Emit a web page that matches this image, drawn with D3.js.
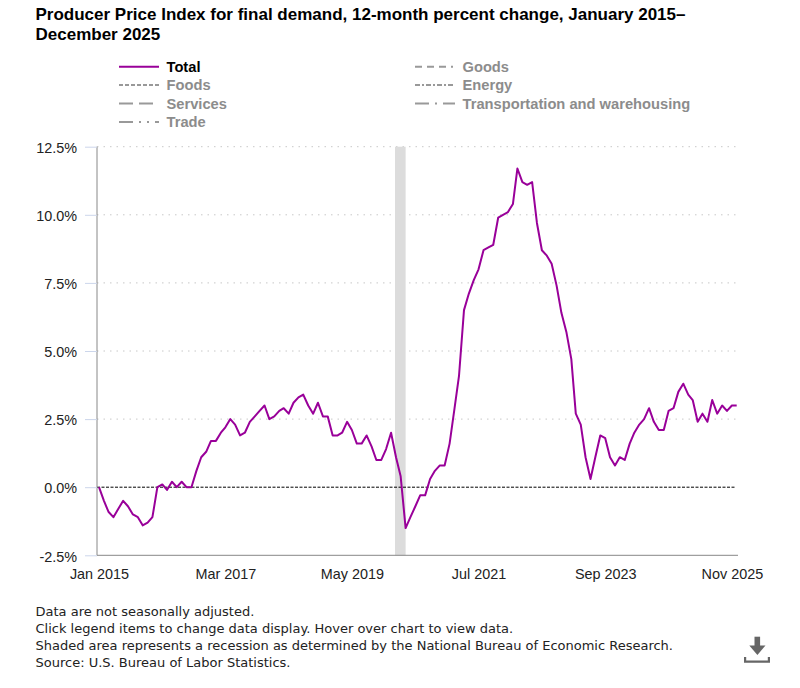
<!DOCTYPE html>
<html>
<head>
<meta charset="utf-8">
<script src="https://cdn.jsdelivr.net/npm/d3@7"></script>
<style>
  html, body { margin: 0; padding: 0; background: #fff; }
  svg { display: block; }
</style>
</head>
<body>
<svg id="chart" width="800" height="688"></svg>
<script>
// ---------------- data ----------------
const startMonth = "2015-01";
const totalValues = [
  0.0, -0.5, -0.9, -1.1, -0.8, -0.5, -0.7, -1.0, -1.1, -1.4, -1.3, -1.1,   // 2015
  0.0, 0.1, -0.1, 0.2, 0.0, 0.2, 0.0, 0.0, 0.6, 1.1, 1.3, 1.7,              // 2016
  1.7, 2.0, 2.2, 2.5, 2.3, 1.9, 2.0, 2.4, 2.6, 2.8, 3.0, 2.5,               // 2017
  2.6, 2.8, 2.9, 2.7, 3.1, 3.3, 3.4, 3.0, 2.7, 3.1, 2.6, 2.6,               // 2018
  1.9, 1.9, 2.0, 2.4, 2.1, 1.6, 1.6, 1.9, 1.5, 1.0, 1.0, 1.4,               // 2019
  2.0, 1.1, 0.4, -1.5, -1.1, -0.7, -0.3, -0.3, 0.3, 0.6, 0.8, 0.8,          // 2020
  1.6, 2.9, 4.1, 6.5, 7.1, 7.6, 8.0, 8.7, 8.8, 8.9, 9.9, 10.0,              // 2021
  10.1, 10.4, 11.7, 11.2, 11.1, 11.2, 9.7, 8.7, 8.5, 8.2, 7.4, 6.4,         // 2022
  5.7, 4.7, 2.7, 2.3, 1.1, 0.3, 1.1, 1.9, 1.8, 1.1, 0.8, 1.1,               // 2023
  1.0, 1.6, 2.0, 2.3, 2.5, 2.9, 2.4, 2.1, 2.1, 2.8, 2.9, 3.5,               // 2024
  3.8, 3.4, 3.2, 2.4, 2.7, 2.4, 3.2, 2.7, 3.0, 2.8, 3.0, 3.0                // 2025
];
const yTicks = [-2.5, 0, 2.5, 5, 7.5, 10, 12.5];
const yTickLabels = ["-2.5%", "0.0%", "2.5%", "5.0%", "7.5%", "10.0%", "12.5%"];
const xTickLabels = ["Jan 2015", "Mar 2017", "May 2019", "Jul 2021", "Sep 2023", "Nov 2025"];
const recession = ["2020-02", "2020-04"];

const legendNames = ["Total", "Foods", "Services", "Trade", "Goods", "Energy", "Transportation and warehousing"];
const legendDashes = ["", "4,2", "14,6", "14,6,2,6,2,6", "7,5,7,5,7,5,2,5", "5,2,2,2", "14,6,2,6"];
const legendActive = [true, false, false, false, false, false, false];

const titleLines = ["Producer Price Index for final demand, 12-month percent change, January 2015–", "December 2025"];
const notes = [
  "Data are not seasonally adjusted.",
  "Click legend items to change data display. Hover over chart to view data.",
  "Shaded area represents a recession as determined by the National Bureau of Economic Research.",
  "Source: U.S. Bureau of Labor Statistics."
];

// ---------------- drawing ----------------
const svg = d3.select("#chart");
const parseM = d3.timeParse("%Y-%m");
const fmt = d3.timeFormat("%b %Y");
const t0 = parseM(startMonth);
const dates = totalValues.map((_, i) => d3.timeMonth.offset(t0, i));
const series = dates.map((d, i) => ({ date: d, value: totalValues[i] }));

const plot = { left: 97, right: 737.5, top: 146.7, bottom: 555.3 };
const x = d3.scaleTime().domain([dates[0], dates[dates.length - 1]]).range([99, 736.7]);
const y = d3.scaleLinear().domain([-2.5, 12.5]).range([plot.bottom, plot.top]);

const SANS = "'Liberation Sans', Arial, Helvetica, sans-serif";

// Title
svg.append("g").selectAll("text").data(titleLines).join("text")
  .attr("x", 35.5).attr("y", (d, i) => 19.5 + i * 20.7)
  .attr("font-family", SANS).attr("font-weight", "bold").attr("font-size", 17)
  .attr("fill", "#000").text(d => d);

// Legend
const lg = svg.append("g");
legendNames.forEach((name, i) => {
  const col = i < 4 ? 0 : 1;
  const row = i < 4 ? i : i - 4;
  const lx = col === 0 ? 119 : 415;
  const ly = 66.7 + row * 18.4;
  const color = legendActive[i] ? "#990099" : "#999";
  lg.append("line").attr("x1", lx).attr("x2", lx + 40).attr("y1", ly).attr("y2", ly)
    .attr("stroke", color).attr("stroke-width", 2)
    .attr("stroke-dasharray", legendDashes[i] || null);
  lg.append("text").attr("x", lx + 47.5).attr("y", ly + 5)
    .attr("font-family", SANS).attr("font-weight", "bold").attr("font-size", 14.7)
    .attr("fill", legendActive[i] ? "#000" : "#8c8c8c").text(name);
});

// Grid lines (dotted)
svg.append("g").selectAll("line").data(yTicks.filter(v => v !== 0 && v !== -2.5)).join("line")
  .attr("x1", plot.left).attr("x2", plot.right - 1.5)
  .attr("y1", d => y(d)).attr("y2", d => y(d))
  .attr("stroke", "#c8c8c8").attr("stroke-width", 1).attr("stroke-dasharray", "1.5,5");

// Recession band
svg.append("rect")
  .attr("x", x(parseM(recession[0])) - 1)
  .attr("y", plot.top)
  .attr("width", x(parseM(recession[1])) - x(parseM(recession[0])) + 1)
  .attr("height", plot.bottom - plot.top)
  .attr("fill", "#dcdcdc");

// Zero line
svg.append("line").attr("x1", plot.left).attr("x2", plot.right - 1.5)
  .attr("y1", y(0)).attr("y2", y(0))
  .attr("stroke", "#000").attr("stroke-width", 1).attr("stroke-dasharray", "3,1.5");

// Y axis
const yAxis = d3.axisLeft(y).tickValues(yTicks).tickFormat((d, i) => yTickLabels[i]).tickSize(12).tickPadding(8);
const yg = svg.append("g").attr("transform", `translate(${plot.left},0)`).call(yAxis);
yg.select(".domain").attr("stroke", "#888").attr("d", `M0,${plot.top}V${plot.bottom}`);
yg.selectAll(".tick line").attr("stroke", "#ccd6eb");
yg.selectAll(".tick text").attr("font-family", SANS).attr("font-size", 14.4).attr("fill", "#222").attr("dy", "0.4em");

// X axis
const xTickDates = xTickLabels.map(s => d3.timeParse("%b %Y")(s));
const xAxis = d3.axisBottom(x).tickValues(xTickDates).tickFormat((d, i) => xTickLabels[i]).tickSize(0).tickPadding(13);
const xg = svg.append("g").attr("transform", `translate(0,${plot.bottom})`).call(xAxis);
xg.select(".domain").attr("stroke", "#888").attr("d", `M${plot.left},0H${plot.right + 0.5}`);
xg.selectAll(".tick text").attr("font-family", SANS).attr("font-size", 14.4).attr("fill", "#222");

// Line
const line = d3.line().x(d => x(d.date)).y(d => y(d.value));
svg.append("path").datum(series).attr("d", line)
  .attr("fill", "none").attr("stroke", "#990099").attr("stroke-width", 2).attr("stroke-linejoin", "round");

// Notes
svg.append("g").selectAll("text").data(notes).join("text")
  .attr("x", 35.5).attr("y", (d, i) => 615.5 + i * 17)
  .attr("font-family", "'DejaVu Sans', sans-serif").attr("font-size", 13)
  .attr("fill", "#222").text(d => d);

// Download icon
const ic = svg.append("g").attr("fill", "#666");
ic.append("rect").attr("x", 754.5).attr("y", 636.7).attr("width", 5.6).attr("height", 10);
ic.append("path").attr("d", "M749.3,645.5 L765.5,645.5 L757.4,655 Z");
ic.append("path").attr("d", "M744,657 h2.2 v3.6 h21.6 v-3.6 h2.2 v5.8 h-26 Z");
</script>
</body>
</html>
